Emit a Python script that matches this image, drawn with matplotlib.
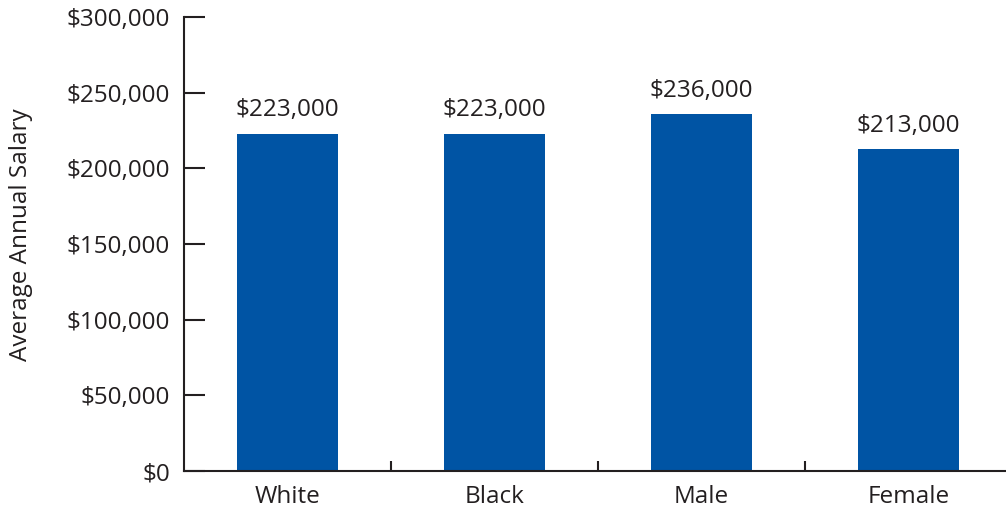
import matplotlib.pyplot as plt
from matplotlib.ticker import FuncFormatter, FixedLocator

plt.rcParams['font.family'] = ['Open Sans', 'DejaVu Sans']

# Data
categories = ["White", "Black", "Male", "Female"]
salaries = [223000, 223000, 236000, 213000]
yticks = [0, 50000, 100000, 150000, 200000, 250000, 300000]

bar_color = "#0054A4"
ink = "#231F20"
fs = 17.5

fig = plt.figure(figsize=(10.06, 5.16), dpi=100)
ax = fig.add_axes([184 / 1006, 45 / 516, 828 / 1006, 454 / 516])

x = list(range(len(categories)))
bars = ax.bar(x, salaries, width=0.485, color=bar_color, zorder=2)

for b, v in zip(bars, salaries):
    ax.annotate(f"${v:,.0f}", (b.get_x() + b.get_width() / 2, v),
                xytext=(0, 8), textcoords="offset points",
                ha="center", va="bottom", fontsize=fs, color=ink)

ax.set_xlim(-0.5, len(categories) - 0.5)
ax.set_ylim(0, 300000)

ax.set_yticks(yticks)
ax.yaxis.set_major_formatter(FuncFormatter(lambda v, p: f"${v:,.0f}"))
ax.tick_params(axis="y", direction="in", length=15, width=1.5, color=ink,
               labelsize=fs, labelcolor=ink, pad=10)

ax.set_xticks(x)
ax.set_xticklabels(categories)
ax.tick_params(axis="x", which="major", length=0, labelsize=fs, labelcolor=ink, pad=10)
ax.xaxis.set_minor_locator(FixedLocator([0.5, 1.5, 2.5]))
ax.tick_params(axis="x", which="minor", direction="in", length=7.5, width=1.5, color=ink)

for side in ["top", "right"]:
    ax.spines[side].set_visible(False)
for side in ["left", "bottom"]:
    ax.spines[side].set_linewidth(1.5)
    ax.spines[side].set_color(ink)

ax.set_ylabel("Average Annual Salary", fontsize=fs, color=ink)
ax.yaxis.set_label_coords(-151 / 828, 0.52)

fig.savefig("out.png", dpi=100)
